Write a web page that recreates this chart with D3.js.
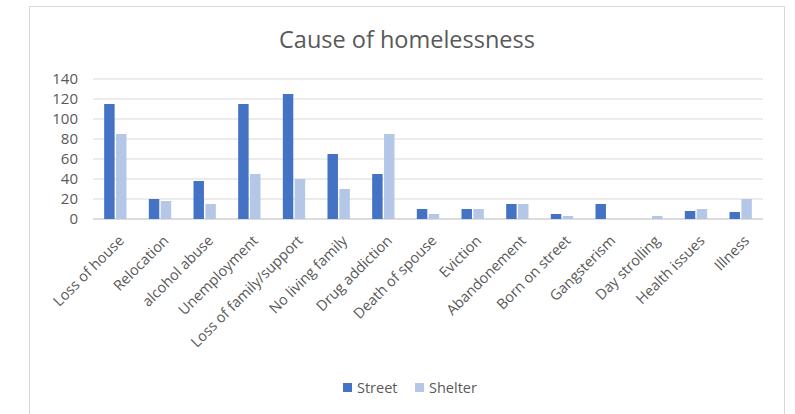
<!DOCTYPE html>
<html>
<head>
<meta charset="utf-8">
<script src="https://cdn.jsdelivr.net/npm/d3@7"></script>
<style>
  body { margin: 0; background: #fff; }
  text { font-family: "Open Sans", "Liberation Sans", sans-serif; fill: #595959; }
</style>
</head>
<body>
<div id="chart-area"></div>
<script>
var categories = ["Loss of house", "Relocation", "alcohol abuse", "Unemployment", "Loss of family/support",
    "No living family", "Drug addiction", "Death of spouse", "Eviction", "Abandonement",
    "Born on street", "Gangsterism", "Day strolling", "Health issues", "Illness"];
var street = [115, 20, 38, 115, 125, 65, 45, 10, 10, 15, 5, 15, 0, 8, 7];
var shelter = [85, 18, 15, 45, 40, 30, 85, 5, 10, 15, 3, 0, 3, 10, 20];
var seriesNames = ["Street", "Shelter"];
var yTicks = [0, 20, 40, 60, 80, 100, 120, 140];

var colors = ["#4472c4", "#b4c7e7"];

var W = 795, H = 414;
var margin = { top: 79, right: 32, bottom: 195, left: 93 };
var width = W - margin.left - margin.right;
var height = H - margin.top - margin.bottom;

var svg = d3.select("#chart-area")
    .append("svg")
    .attr("width", W)
    .attr("height", H);

// chart frame
svg.append("rect")
    .attr("x", 29.5).attr("y", 6.5)
    .attr("width", 755).attr("height", 420)
    .attr("fill", "none")
    .attr("stroke", "#d9d9d9");

svg.append("text")
    .attr("x", 407)
    .attr("y", 48)
    .attr("text-anchor", "middle")
    .style("font-size", "23.5px")
    .text("Cause of homelessness");

var g = svg.append("g")
    .attr("transform", "translate(" + margin.left + "," + margin.top + ")");

var x = d3.scaleBand().domain(categories).range([0, width]).paddingInner(0.5).paddingOuter(0.25);
var x1 = d3.scaleBand().domain(seriesNames).range([0, x.bandwidth()]).paddingInner(0.12);
var y = d3.scaleLinear().domain([0, 140]).range([height, 0]);

// gridlines
g.append("g")
    .selectAll("line")
    .data(yTicks)
    .enter().append("line")
    .attr("x1", 0).attr("x2", width)
    .attr("y1", d => y(d)).attr("y2", d => y(d))
    .attr("stroke", d => d === 0 ? "#d0d0d0" : "#d9d9d9")
    .attr("stroke-width", d => d === 0 ? 1.5 : 1);

var yAxis = g.append("g")
    .call(d3.axisLeft(y).tickValues(yTicks).tickSize(0).tickPadding(15));
yAxis.select(".domain").remove();
yAxis.selectAll("text").style("font-size", "15px").attr("fill", "#595959");

var groups = g.selectAll(".grp")
    .data(categories.map((c, i) => ({ cat: c, vals: [street[i], shelter[i]] })))
    .enter().append("g")
    .attr("class", "grp")
    .attr("transform", d => "translate(" + x(d.cat) + ",0)");

groups.selectAll("rect")
    .data(d => d.vals.map((v, j) => ({ name: seriesNames[j], v: v, j: j })))
    .enter().append("rect")
    .attr("x", d => x1(d.name))
    .attr("y", d => y(d.v))
    .attr("width", x1.bandwidth())
    .attr("height", d => height - y(d.v))
    .attr("fill", d => colors[d.j]);

// rotated category labels
g.append("g")
    .selectAll("text")
    .data(categories)
    .enter().append("text")
    .attr("transform", d => "translate(" + (x(d) + x.bandwidth() / 2 + 6) + "," + (height + 19) + ") rotate(-45)")
    .attr("text-anchor", "end")
    .attr("dy", "0.35em")
    .style("font-size", "14.5px")
    .text(d => d);

// legend
var legend = svg.append("g").attr("transform", "translate(343,383)");
var lx = [0, 72];
seriesNames.forEach((s, i) => {
    legend.append("rect")
        .attr("x", lx[i]).attr("y", 0)
        .attr("width", 9).attr("height", 9)
        .attr("fill", colors[i]);
    legend.append("text")
        .attr("x", lx[i] + 14).attr("y", 9.5)
        .style("font-size", "14.5px")
        .text(s);
});
</script>
</body>
</html>
